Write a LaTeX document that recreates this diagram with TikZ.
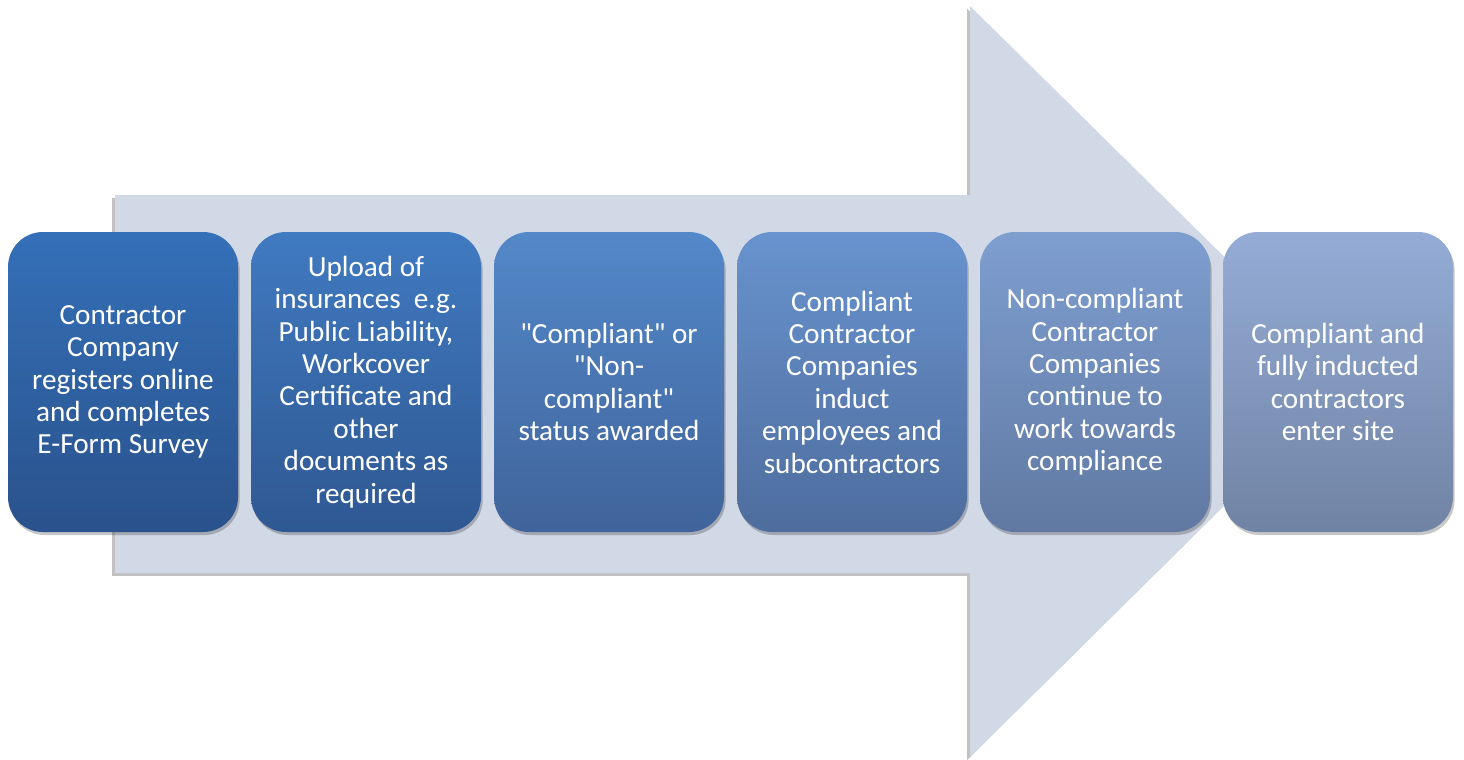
\documentclass[tikz,border=0pt]{standalone}
\usepackage{fontspec}
\setmainfont{Carlito}[Ligatures=TeXOff]
\usetikzlibrary{shadows}
\definecolor{arrowfill}{RGB}{209,216,230}
\definecolor{aT}{RGB}{52,112,184}\definecolor{aB}{RGB}{42,82,140}
\definecolor{bT}{RGB}{64,122,193}\definecolor{bB}{RGB}{47,88,146}
\definecolor{cT}{RGB}{83,136,201}\definecolor{cB}{RGB}{64,100,155}
\definecolor{dT}{RGB}{104,147,206}\definecolor{dB}{RGB}{78,109,158}
\definecolor{eT}{RGB}{126,158,208}\definecolor{eB}{RGB}{96,121,162}
\definecolor{fT}{RGB}{148,172,214}\definecolor{fB}{RGB}{112,131,164}
\tikzset{
  stepbox/.style={rounded corners=17.5pt, minimum width=115pt, minimum height=150pt,
    align=center, text=white, inner sep=0pt,
    font=\fontsize{14.6}{16.2}\selectfont,
    drop shadow={shadow xshift=0.8pt, shadow yshift=-1.5pt, opacity=0.22, fill=black}},
  bigarrow/.style={fill=arrowfill, draw=none,
    drop shadow={shadow xshift=-1.4pt, shadow yshift=-1.4pt, opacity=0.4, fill=black!60}}
}
\begin{document}
\begin{tikzpicture}[x=0.5pt,y=-0.5pt]
\useasboundingbox (0,0) rectangle (1464,760);
\fill[white] (0,0) rectangle (1464,760);
\path[bigarrow] (115,195) -- (970,195) -- (970,6) -- (1350,381) -- (970,757) -- (970,573) -- (115,573) -- cycle;
\node[stepbox, top color=aT, bottom color=aB] (s1) at (123,382) {Contractor\\Company\\registers online\\and completes\\E-Form Survey};
\node[stepbox, top color=bT, bottom color=bB] (s2) at (366,382) {Upload of\\insurances\ \ e.g.\\Public Liability,\\Workcover\\Certificate and\\other\\documents as\\required};
\node[stepbox, top color=cT, bottom color=cB] (s3) at (609,382) {"Compliant" or\\"Non-\\compliant"\\status awarded};
\node[stepbox, top color=dT, bottom color=dB] (s4) at (852,382) {Compliant\\Contractor\\Companies\\induct\\employees and\\subcontractors};
\node[stepbox, top color=eT, bottom color=eB] (s5) at (1095,382) {Non-compliant\\Contractor\\Companies\\continue to\\work towards\\compliance};
\node[stepbox, top color=fT, bottom color=fB] (s6) at (1338,382) {Compliant and\\fully inducted\\contractors\\enter site};
\end{tikzpicture}
\end{document}
